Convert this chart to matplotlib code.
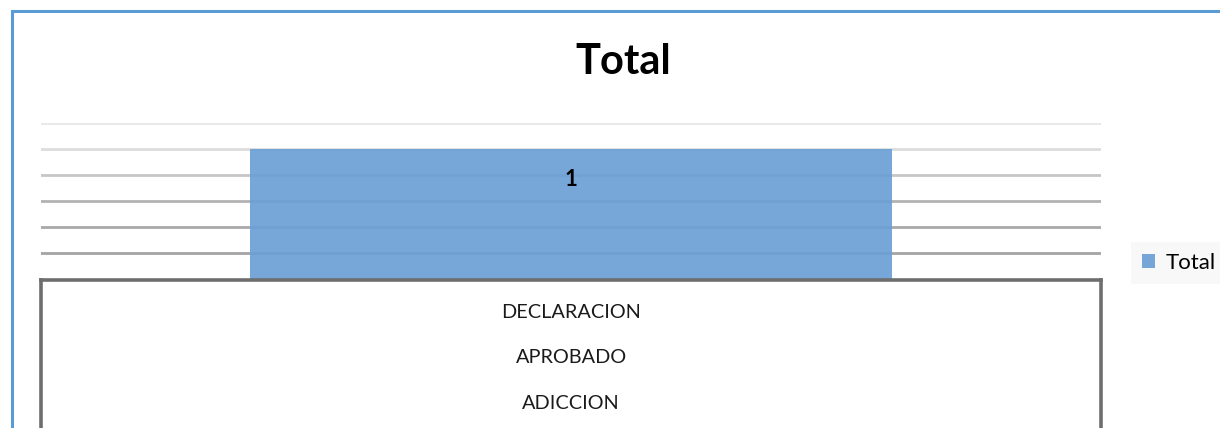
import numpy as np
import matplotlib.pyplot as plt
from matplotlib.patches import Rectangle

# data
series_name = "Total"
values = [1]
category_levels = ["DECLARACION", "APROBADO", "ADICCION"]
y_ticks = [0, 0.2, 0.4, 0.6, 0.8, 1.0, 1.2]

plt.rcParams['font.family'] = ['Lato', 'DejaVu Sans']

fig = plt.figure(figsize=(12.2, 4.28), dpi=100)
fig.patch.set_facecolor("white")

# blue outer frame (cut off at right and bottom)
fig.patches.append(Rectangle((12/1220, -0.2), 1.5, 1 - 11/428 + 0.2, transform=fig.transFigure,
                             fill=False, edgecolor="#5b9bd5", linewidth=2.2, zorder=0))

# plot area
ax = fig.add_axes([41/1220, 1 - 279/428, 1060/1220, 156/428])
x = np.arange(len(values))
bars = ax.bar(x, values, width=0.606, color="#6b9fd6", alpha=0.92, zorder=3, label=series_name)
ax.set_xlim(-0.5, 0.5)
ax.set_ylim(y_ticks[0], y_ticks[-1])
ax.set_yticks(y_ticks)
ax.yaxis.grid(True, zorder=1)
ax.set_axisbelow(True)
grid_colors = ["#ffffff", "#a4a4a4", "#a9a9a9", "#b2b2b2", "#c6c6c6", "#dddddd", "#e8e8e8"]
for gl, c in zip(ax.get_ygridlines(), grid_colors):
    gl.set_color(c)
    gl.set_linewidth(2)
ax.tick_params(left=False, bottom=False, labelleft=False, labelbottom=False)
for s in ax.spines.values():
    s.set_visible(False)

for xi, v in zip(x, values):
    ax.annotate(str(v), (xi, v), xytext=(0, -22), textcoords="offset points",
                ha="center", va="center", fontsize=16, fontweight="bold", color="black",
                zorder=4)

# category box with hierarchical labels
cax = fig.add_axes([41/1220, 1 - 440/428, 1060/1220, 160/428])
cax.set_xlim(0, 1)
cax.set_ylim(1, 0)
cax.tick_params(left=False, bottom=False, labelleft=False, labelbottom=False)
for name in ["left", "top", "right"]:
    cax.spines[name].set_color("#6e6e6e")
    cax.spines[name].set_linewidth(2.6)
cax.spines["bottom"].set_visible(False)
rows = [0.2, 0.4875, 0.775]
for r, lab in zip(rows, category_levels):
    cax.text(0.5, r, lab, ha="center", va="center", fontsize=14.3, color="#1a1a1a")

# title
fig.text(623/1220, 1 - 62/428, "Total", ha="center", va="center",
         fontsize=30, fontweight="bold", color="black")

# legend
leg = fig.legend(handles=[bars], labels=[series_name], loc="center left",
                 bbox_to_anchor=(1131/1220, 1 - 263/428), frameon=True,
                 facecolor="#f7f7f7", edgecolor="none", fontsize=16,
                 handlelength=0.6, handleheight=0.6, handletextpad=0.45,
                 borderpad=0.5, borderaxespad=0, fancybox=False)

plt.savefig("out.png", dpi=100)
plt.close()
